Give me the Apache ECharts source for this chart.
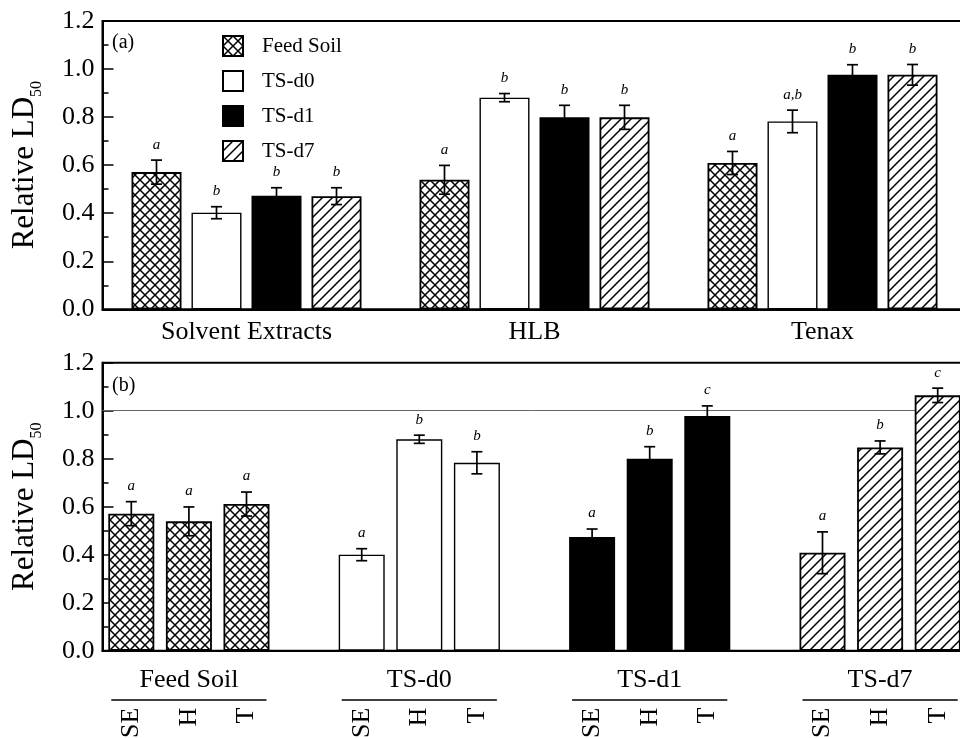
<!DOCTYPE html>
<html><head><meta charset="utf-8">
<script src="https://cdn.jsdelivr.net/npm/echarts@6.0.0/dist/echarts.min.js"></script>
<style>html,body{margin:0;padding:0;background:#fff}#c{width:960px;height:738px}</style>
</head><body><div id="c"></div>
<script>
// ---------- data ----------
const seriesNames = ['Feed Soil', 'TS-d0', 'TS-d1', 'TS-d7'];

// panel (a)
const topCategories = ['Solvent Extracts', 'HLB', 'Tenax'];
const topFeed = [0.571, 0.539, 0.609];
const topD0   = [0.402, 0.881, 0.782];
const topD1   = [0.473, 0.799, 0.976];
const topD7   = [0.471, 0.799, 0.976];
const topFeedErr = [0.050, 0.060, 0.048];
const topD0Err   = [0.025, 0.017, 0.047];
const topD1Err   = [0.033, 0.050, 0.042];
const topD7Err   = [0.035, 0.050, 0.043];
const topFeedSig = ['a', 'a', 'a'];
const topD0Sig   = ['b', 'b', 'a,b'];
const topD1Sig   = ['b', 'b', 'b'];
const topD7Sig   = ['b', 'b', 'b'];

// panel (b)
const bottomGroups = ['Feed Soil', 'TS-d0', 'TS-d1', 'TS-d7'];
const bottomSubLabels = ['SE', 'H', 'T'];
const botFeed = [0.571, 0.539, 0.611];
const botD0   = [0.400, 0.881, 0.783];
const botD1   = [0.474, 0.800, 0.978];
const botD7   = [0.408, 0.847, 1.064];
const botFeedErr = [0.050, 0.060, 0.050];
const botD0Err   = [0.025, 0.017, 0.046];
const botD1Err   = [0.033, 0.050, 0.042];
const botD7Err   = [0.087, 0.027, 0.030];
const botFeedSig = ['a', 'a', 'a'];
const botD0Sig   = ['a', 'b', 'b'];
const botD1Sig   = ['a', 'b', 'c'];
const botD7Sig   = ['a', 'b', 'c'];
const referenceValue = 1.0;

const yMin = 0, yMax = 1.2, yStep = 0.2;

// ---------- patterns ----------
const FONT = '"Liberation Serif", "Times New Roman", serif';
function makeTile(kind) {
  const s = 10;
  const c = document.createElement('canvas');
  c.width = s; c.height = s;
  const g = c.getContext('2d');
  g.fillStyle = '#fff'; g.fillRect(0, 0, s, s);
  g.strokeStyle = '#000'; g.lineWidth = 1.5; g.lineCap = 'square';
  g.beginPath();
  if (kind === 'cross') {
    g.moveTo(-1, -1); g.lineTo(s + 1, s + 1);
    g.moveTo(s + 1, -1); g.lineTo(-1, s + 1);
  } else {
    g.moveTo(-1, s + 1); g.lineTo(s + 1, -1);
    g.moveTo(-s / 2 - 1, s / 2 + 1); g.lineTo(s / 2 + 1, -s / 2 - 1);
    g.moveTo(s / 2 - 1, s * 1.5 + 1); g.lineTo(s * 1.5 + 1, s / 2 - 1);
  }
  g.stroke();
  return { image: c, repeat: 'repeat' };
}
const fills = [makeTile('cross'), '#ffffff', '#000000', makeTile('diag')];
const borderW = [1.8, 1.4, 1.8, 1.8];

// ---------- build ----------
const topVals = [topFeed, topD0, topD1, topD7];
const topErrs = [topFeedErr, topD0Err, topD1Err, topD7Err];
const topSigs = [topFeedSig, topD0Sig, topD1Sig, topD7Sig];
const botVals = [botFeed, botD0, botD1, botD7];
const botErrs = [botFeedErr, botD0Err, botD1Err, botD7Err];
const botSigs = [botFeedSig, botD0Sig, botD1Sig, botD7Sig];

const slots = [];
bottomGroups.forEach((g, gi) => {
  bottomSubLabels.forEach(s => slots.push(g + '|' + s));
  if (gi < bottomGroups.length - 1) slots.push('gap' + gi);
});
const slotIndex = (gi, si) => gi * (bottomSubLabels.length + 1) + si;

const TOP_BW = 50, TOP_GAP = 10, BOT_BW = 46;

function errRender(sigArr, offsetFn) {
  return function (params, api) {
    const ci = api.value(0), v = api.value(1), e = api.value(2);
    const off = offsetFn();
    const pt = api.coord([ci, v + e]);
    const pb = api.coord([ci, v - e]);
    const x = pt[0] + off;
    const cap = 5.5;
    const ls = { stroke: '#000', lineWidth: 1.7 };
    return {
      type: 'group',
      children: [
        { type: 'line', shape: { x1: x, y1: pt[1], x2: x, y2: pb[1] }, style: ls },
        { type: 'line', shape: { x1: x - cap, y1: pt[1], x2: x + cap, y2: pt[1] }, style: ls },
        { type: 'line', shape: { x1: x - cap, y1: pb[1], x2: x + cap, y2: pb[1] }, style: ls },
        { type: 'text', x: x, y: pt[1] - 8,
          style: { text: sigArr[params.dataIndex], fill: '#000', align: 'center', verticalAlign: 'bottom',
                   font: 'italic 15px ' + FONT } }
      ]
    };
  };
}

const series = [];
seriesNames.forEach((name, k) => {
  series.push({
    name: name, type: 'bar', xAxisIndex: 0, yAxisIndex: 0,
    barWidth: TOP_BW, barGap: (TOP_GAP / TOP_BW * 100) + '%',
    itemStyle: { color: fills[k], borderColor: '#000', borderWidth: borderW[k] },
    emphasis: { disabled: true },
    data: topVals[k], z: 2
  });
});
seriesNames.forEach((name, k) => {
  series.push({
    name: name + ' err', type: 'custom', xAxisIndex: 0, yAxisIndex: 0, z: 4, clip: false,
    renderItem: errRender(topSigs[k], () => (k - 1.5) * (TOP_BW + TOP_GAP)),
    encode: { x: 0, y: 1 },
    data: topCategories.map((c, i) => [i, topVals[k][i], topErrs[k][i]])
  });
});
bottomGroups.forEach((g, gi) => {
  const data = slots.map(() => '-');
  bottomSubLabels.forEach((s, si) => { data[slotIndex(gi, si)] = botVals[gi][si]; });
  const ser = {
    name: g + ' (b)', type: 'bar', xAxisIndex: 1, yAxisIndex: 1,
    barWidth: BOT_BW, barGap: '-100%',
    itemStyle: { color: fills[gi], borderColor: '#000', borderWidth: borderW[gi] },
    emphasis: { disabled: true },
    data: data, z: 2
  };
  if (gi === 0) {
    ser.markLine = {
      silent: true, symbol: 'none', z: 1, label: { show: false },
      lineStyle: { color: '#666', width: 1, type: 'solid' },
      emphasis: { disabled: true },
      data: [{ yAxis: referenceValue }]
    };
  }
  series.push(ser);
  series.push({
    name: g + ' (b) err', type: 'custom', xAxisIndex: 1, yAxisIndex: 1, z: 4, clip: false,
    renderItem: errRender(botSigs[gi], () => 0),
    encode: { x: 0, y: 1 },
    data: bottomSubLabels.map((s, si) => [slotIndex(gi, si), botVals[gi][si], botErrs[gi][si]])
  });
});

const yAxisCommon = {
  type: 'value', min: yMin, max: yMax, interval: yStep,
  axisLine: { show: true, lineStyle: { color: '#000', width: 2 } },
  axisTick: { show: true, inside: true, length: 11, lineStyle: { color: '#000', width: 1.5 } },
  minorTick: { show: true, splitNumber: 2, length: 6, lineStyle: { color: '#000', width: 1.5 } },
  splitLine: { show: false },
  axisLabel: { color: '#000', fontSize: 26, fontFamily: FONT, margin: 8, formatter: v => v.toFixed(1) },
  name: '{m|Relative LD}{s|50}', nameLocation: 'middle', nameGap: 58,
  nameTextStyle: {
    rich: {
      m: { fontSize: 31, fontFamily: FONT, color: '#000', lineHeight: 40 },
      s: { fontSize: 16, fontFamily: FONT, color: '#000', lineHeight: 40, verticalAlign: 'bottom' }
    }
  }
};

const option = {
  animation: false,
  backgroundColor: '#fff',
  title: [
    { text: '(a)', left: 112, top: 33, padding: 0, textStyle: { fontSize: 20, fontWeight: 'normal', fontFamily: FONT, color: '#000', lineHeight: 20 } },
    { text: '(b)', left: 112, top: 376, padding: 0, textStyle: { fontSize: 20, fontWeight: 'normal', fontFamily: FONT, color: '#000', lineHeight: 20 } }
  ],
  legend: {
    data: seriesNames, orient: 'vertical', left: 222, top: 35, padding: 0,
    itemWidth: 20, itemHeight: 20, itemGap: 13, icon: 'rect', selectedMode: false,
    textStyle: { fontSize: 21, fontFamily: FONT, color: '#000', lineHeight: 20, padding: [0, 0, 0, 14] }
  },
  grid: [
    { left: 102.5, right: -6.5, top: 21, height: 288.3, show: true, borderColor: '#000', borderWidth: 2, backgroundColor: 'transparent', outerBoundsMode: 'none', containLabel: false },
    { left: 102.5, right: -6.5, top: 362.7, height: 288, show: true, borderColor: '#000', borderWidth: 2, backgroundColor: 'transparent', outerBoundsMode: 'none', containLabel: false }
  ],
  xAxis: [
    { type: 'category', gridIndex: 0, data: topCategories,
      axisLine: { lineStyle: { color: '#000', width: 2 } }, axisTick: { show: false },
      axisLabel: { color: '#000', fontSize: 26, fontFamily: FONT, margin: 10, interval: 0 } },
    { type: 'category', gridIndex: 1, data: slots,
      axisLine: { lineStyle: { color: '#000', width: 2 } }, axisTick: { show: false },
      axisLabel: { color: '#000', fontSize: 26, fontFamily: FONT, margin: 57, interval: 0, rotate: 90,
        formatter: v => v.indexOf('|') >= 0 ? v.split('|')[1] : '' } }
  ],
  yAxis: [
    Object.assign({ gridIndex: 0 }, yAxisCommon),
    Object.assign({ gridIndex: 1 }, yAxisCommon)
  ],
  series: series
};

const chart = echarts.init(document.getElementById('c'), null, { renderer: 'canvas' });
chart.setOption(option);

// group labels and underlines under panel (b), positioned through the axis scales
const yBase = chart.convertToPixel({ yAxisIndex: 1 }, 0);
const graphics = [];
bottomGroups.forEach((g, gi) => {
  const xFirst = chart.convertToPixel({ xAxisIndex: 1 }, slotIndex(gi, 0));
  const xMid = chart.convertToPixel({ xAxisIndex: 1 }, slotIndex(gi, 1));
  const xLast = chart.convertToPixel({ xAxisIndex: 1 }, slotIndex(gi, bottomSubLabels.length - 1));
  graphics.push({ type: 'text', x: xMid, y: yBase + 29.5,
    style: { text: g, fill: '#000', font: '26px ' + FONT, align: 'center', verticalAlign: 'middle' } });
  graphics.push({ type: 'line', shape: { x1: xFirst - 20, y1: yBase + 49.3, x2: xLast + 20, y2: yBase + 49.3 },
    style: { stroke: '#000', lineWidth: 1.5 } });
});
chart.setOption({ graphic: graphics });
</script>
</body></html>
